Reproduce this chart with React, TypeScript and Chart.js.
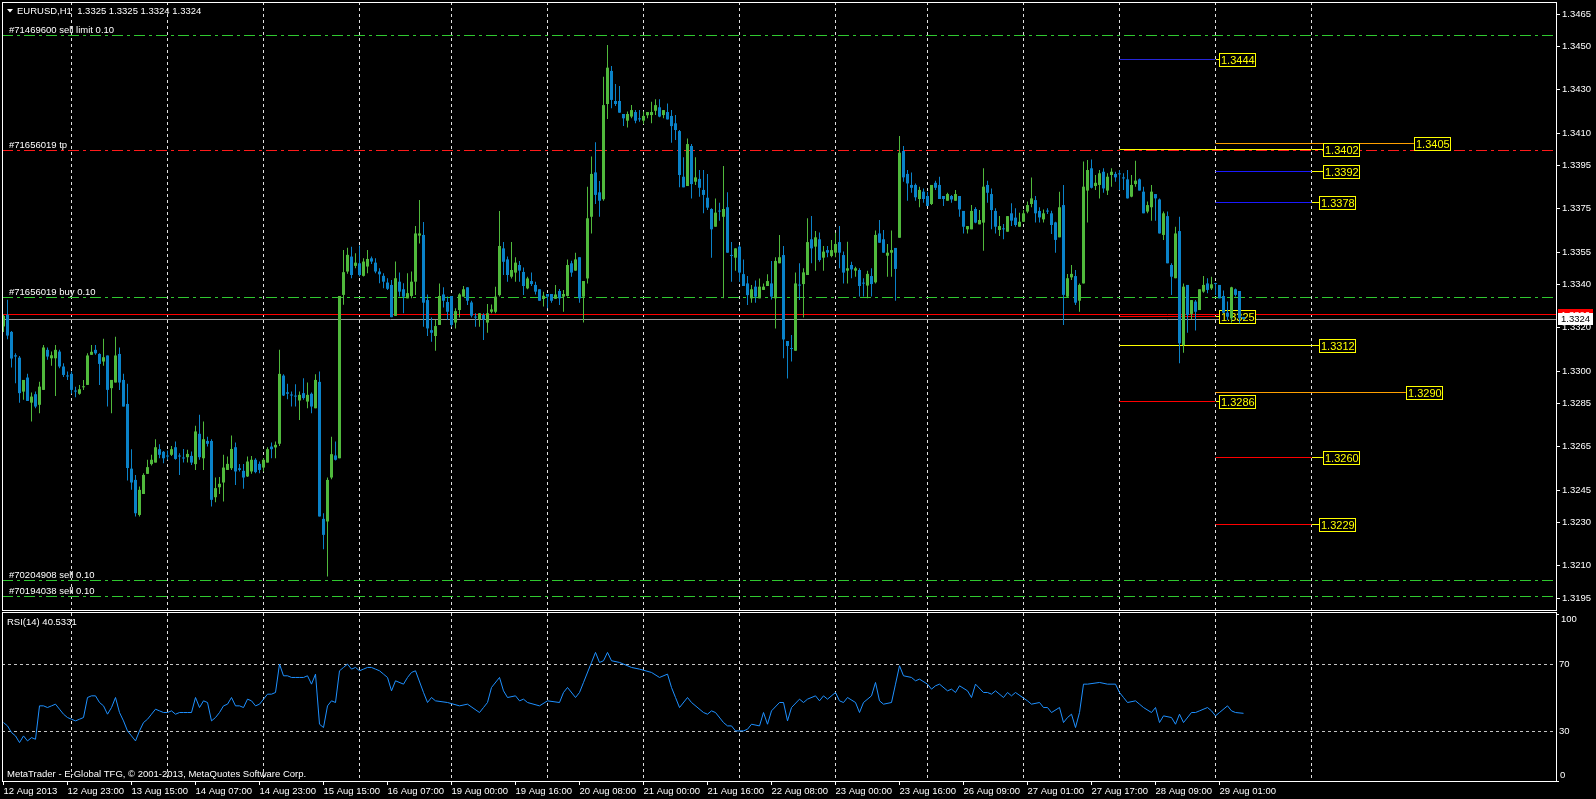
import React, { useEffect, useRef } from "react";
import { Chart, registerables } from "chart.js";

Chart.register(...registerables);

// ---------------- DATA ----------------
const OPEN = [
  1.33206,1.33260,1.33181,1.33073,1.33062,1.32905,1.32970,1.32854,1.32893,1.32844,
  1.32913,1.33098,1.33059,1.33059,1.33090,1.33021,1.32978,1.32987,1.32910,1.32895,
  1.32925,1.32936,1.33075,1.33098,1.33079,1.33044,1.33072,1.32921,1.32947,1.33079,
  1.32959,1.32848,1.32549,1.32497,1.32335,1.32432,1.32525,1.32570,1.32577,1.32639,
  1.32627,1.32608,1.32613,1.32648,1.32608,1.32600,1.32602,1.32608,1.32570,1.32710,
  1.32597,1.32677,1.32677,1.32417,1.32463,1.32485,1.32543,1.32551,1.32648,1.32551,
  1.32539,1.32513,1.32536,1.32590,1.32571,1.32554,1.32577,1.32651,1.32647,1.32664,
  1.32979,1.32902,1.32890,1.32885,1.32864,1.32898,1.32859,1.32895,1.32828,1.32950,
  1.32317,1.32305,1.32508,1.32610,1.32597,1.33352,1.33460,1.33529,1.33486,1.33498,
  1.33440,1.33483,1.33521,1.33501,1.33460,1.33440,1.33409,1.33398,1.33255,1.33413,
  1.33378,1.33336,1.33347,1.33413,1.33626,1.33629,1.33328,1.33189,1.33162,1.33213,
  1.33354,1.33319,1.33347,1.33224,1.33282,1.33344,1.33387,1.33317,1.33251,1.33239,
  1.33259,1.33224,1.33274,1.33274,1.33351,1.33567,1.33516,1.33436,1.33455,1.33490,
  1.33458,1.33382,1.33416,1.33398,1.33378,1.33333,1.33356,1.33356,1.33334,1.33370,
  1.33344,1.33347,1.33498,1.33464,1.33526,1.33344,1.33428,1.33713,1.33918,1.33826,
  1.33794,1.34234,1.34387,1.34248,1.34248,1.34188,1.34157,1.34176,1.34197,1.34168,
  1.34157,1.34182,1.34183,1.34203,1.34219,1.34183,1.34197,1.34179,1.34145,1.34109,
  1.33898,1.33855,1.34040,1.33875,1.33888,1.33837,1.33801,1.33749,1.33667,1.33741,
  1.33713,1.33757,1.33535,1.33524,1.33575,1.33448,1.33405,1.33336,1.33390,1.33336,
  1.33375,1.33393,1.33405,1.33336,1.33498,1.33536,1.33139,1.33105,1.33094,1.33398,
  1.33402,1.33444,1.33609,1.33575,1.33609,1.33524,1.33559,1.33532,1.33547,1.33596,
  1.33536,1.33464,1.33490,1.33464,1.33467,1.33407,1.33395,1.33439,1.33410,1.33636,
  1.33609,1.33533,1.33547,1.33569,1.33616,1.34017,1.33911,1.33860,1.33860,1.33795,
  1.33829,1.33809,1.33772,1.33870,1.33860,1.33809,1.33787,1.33809,1.33787,1.33809,
  1.33740,1.33655,1.33655,1.33749,1.33678,1.33686,1.33860,1.33818,1.33740,1.33652,
  1.33658,1.33644,1.33729,1.33709,1.33667,1.33690,1.33737,1.33772,1.33790,1.33740,
  1.33701,1.33741,1.33729,1.33687,1.33618,1.33767,1.33344,1.33433,1.33439,1.33325,
  1.33405,1.33834,1.33937,1.33855,1.33860,1.33921,1.33834,1.33906,1.33911,1.33911,
  1.33895,1.33886,1.33806,1.33864,1.33886,1.33829,1.33737,1.33757,1.33818,1.33793,
  1.33629,1.33716,1.33490,1.33429,1.33647,1.33120,1.33398,1.33264,1.33321,1.33282,
  1.33367,1.33405,1.33382,1.33405,1.33398,1.33347,1.33270,1.33244,1.33378,1.33370,
  1.33250,
];
const HIGH = [
  1.33260,1.33329,1.33185,1.33082,1.33070,1.32959,1.32987,1.32901,1.32905,1.32951,
  1.33121,1.33109,1.33090,1.33121,1.33098,1.33036,1.32998,1.32998,1.32928,1.32936,
  1.32959,1.33082,1.33121,1.33121,1.33082,1.33149,1.33072,1.32959,1.33158,1.33109,
  1.32987,1.32941,1.32639,1.32520,1.32466,1.32528,1.32590,1.32613,1.32685,1.32662,
  1.32631,1.32633,1.32654,1.32674,1.32620,1.32640,1.32636,1.32628,1.32747,1.32798,
  1.32767,1.32697,1.32685,1.32508,1.32510,1.32613,1.32605,1.32702,1.32670,1.32570,
  1.32571,1.32605,1.32608,1.32597,1.32582,1.32597,1.32648,1.32670,1.32674,1.33098,
  1.32985,1.32941,1.32905,1.32939,1.32905,1.32967,1.32947,1.32901,1.32985,1.32998,
  1.32343,1.32508,1.32697,1.32674,1.33347,1.33560,1.33570,1.33575,1.33544,1.33580,
  1.33521,1.33560,1.33529,1.33521,1.33475,1.33452,1.33429,1.33421,1.33506,1.33455,
  1.33406,1.33452,1.33460,1.33670,1.33790,1.33689,1.33354,1.33248,1.33236,1.33405,
  1.33387,1.33344,1.33347,1.33290,1.33359,1.33393,1.33387,1.33325,1.33267,1.33267,
  1.33267,1.33310,1.33308,1.33390,1.33740,1.33596,1.33529,1.33596,1.33526,1.33509,
  1.33478,1.33436,1.33456,1.33413,1.33378,1.33367,1.33356,1.33356,1.33398,1.33379,
  1.33375,1.33516,1.33510,1.33547,1.33526,1.33416,1.33852,1.33991,1.34057,1.33878,
  1.34360,1.34507,1.34410,1.34326,1.34317,1.34188,1.34199,1.34229,1.34206,1.34206,
  1.34199,1.34197,1.34245,1.34256,1.34256,1.34206,1.34237,1.34206,1.34183,1.34114,
  1.33988,1.34075,1.34049,1.33988,1.33929,1.33929,1.33911,1.33752,1.33798,1.33778,
  1.33948,1.33826,1.33596,1.33567,1.33582,1.33516,1.33439,1.33398,1.33418,1.33428,
  1.33405,1.33447,1.33509,1.33526,1.33629,1.33578,1.33139,1.33167,1.33456,1.33498,
  1.33475,1.33706,1.33716,1.33647,1.33640,1.33578,1.33578,1.33606,1.33639,1.33670,
  1.33552,1.33598,1.33505,1.33482,1.33475,1.33429,1.33464,1.33475,1.33649,1.33698,
  1.33652,1.33587,1.33649,1.33569,1.34086,1.34040,1.33929,1.33918,1.33867,1.33852,
  1.33844,1.33829,1.33860,1.33880,1.33898,1.33809,1.33824,1.33814,1.33837,1.33809,
  1.33740,1.33670,1.33767,1.33757,1.33744,1.33937,1.33880,1.33844,1.33752,1.33716,
  1.33680,1.33716,1.33775,1.33752,1.33732,1.33744,1.33783,1.33895,1.33809,1.33757,
  1.33747,1.33752,1.33741,1.33690,1.33829,1.33860,1.33449,1.33490,1.33467,1.33405,
  1.33968,1.33975,1.33978,1.33906,1.33929,1.33937,1.33914,1.33937,1.33921,1.33929,
  1.33914,1.33929,1.33906,1.33972,1.33890,1.33852,1.33783,1.33860,1.33818,1.33798,
  1.33737,1.33737,1.33498,1.33667,1.33713,1.33405,1.33398,1.33328,1.33328,1.33378,
  1.33439,1.33429,1.33436,1.33408,1.33398,1.33372,1.33321,1.33390,1.33382,1.33370,
  1.33250,
];
const LOW = [
  1.33180,1.33147,1.33016,1.32944,1.32854,1.32867,1.32862,1.32767,1.32828,1.32805,
  1.32913,1.33052,1.33024,1.32885,1.33013,1.32972,1.32959,1.32895,1.32879,1.32890,
  1.32913,1.32936,1.33075,1.33075,1.32936,1.33024,1.32836,1.32805,1.32947,1.32913,
  1.32836,1.32494,1.32451,1.32328,1.32328,1.32432,1.32524,1.32563,1.32577,1.32597,
  1.32574,1.32590,1.32608,1.32590,1.32520,1.32577,1.32577,1.32566,1.32543,1.32590,
  1.32543,1.32651,1.32374,1.32394,1.32432,1.32397,1.32543,1.32543,1.32474,1.32536,
  1.32456,1.32510,1.32525,1.32528,1.32528,1.32536,1.32577,1.32597,1.32597,1.32654,
  1.32885,1.32870,1.32836,1.32836,1.32774,1.32867,1.32828,1.32805,1.32828,1.32328,
  1.32177,1.32051,1.32500,1.32587,1.32597,1.33306,1.33450,1.33429,1.33475,1.33437,
  1.33437,1.33452,1.33495,1.33452,1.33406,1.33383,1.33375,1.33249,1.33255,1.33344,
  1.33267,1.33336,1.33336,1.33351,1.33590,1.33205,1.33162,1.33136,1.33094,1.33213,
  1.33294,1.33236,1.33205,1.33197,1.33248,1.33344,1.33305,1.33248,1.33205,1.33205,
  1.33144,1.33177,1.33267,1.33267,1.33344,1.33444,1.33413,1.33428,1.33413,1.33413,
  1.33351,1.33378,1.33393,1.33354,1.33325,1.33298,1.33290,1.33316,1.33334,1.33305,
  1.33274,1.33344,1.33436,1.33464,1.33316,1.33224,1.33405,1.33636,1.33772,1.33713,
  1.33787,1.34165,1.34214,1.34225,1.34194,1.34132,1.34125,1.34168,1.34145,1.34152,
  1.34142,1.34168,1.34145,1.34183,1.34173,1.34168,1.34163,1.34055,1.34068,1.33849,
  1.33849,1.33855,1.33798,1.33860,1.33806,1.33729,1.33744,1.33524,1.33667,1.33695,
  1.33336,1.33547,1.33413,1.33464,1.33413,1.33393,1.33305,1.33316,1.33316,1.33336,
  1.33375,1.33393,1.33331,1.33197,1.33498,1.33059,1.32966,1.33044,1.33094,1.33328,
  1.33248,1.33444,1.33498,1.33464,1.33505,1.33464,1.33526,1.33526,1.33526,1.33475,
  1.33405,1.33405,1.33429,1.33436,1.33344,1.33344,1.33336,1.33344,1.33405,1.33593,
  1.33547,1.33436,1.33436,1.33325,1.33616,1.33875,1.33787,1.33824,1.33787,1.33757,
  1.33778,1.33763,1.33767,1.33837,1.33795,1.33763,1.33787,1.33778,1.33787,1.33713,
  1.33636,1.33636,1.33655,1.33683,1.33678,1.33556,1.33778,1.33655,1.33636,1.33624,
  1.33609,1.33644,1.33670,1.33667,1.33667,1.33690,1.33729,1.33757,1.33686,1.33686,
  1.33686,1.33726,1.33633,1.33547,1.33618,1.33213,1.33341,1.33421,1.33305,1.33274,
  1.33405,1.33686,1.33844,1.33837,1.33798,1.33824,1.33814,1.33852,1.33875,1.33837,
  1.33837,1.33798,1.33803,1.33852,1.33834,1.33729,1.33729,1.33695,1.33695,1.33636,
  1.33606,1.33498,1.33352,1.33429,1.33036,1.33085,1.33177,1.33239,1.33187,1.33282,
  1.33362,1.33359,1.33375,1.33352,1.33336,1.33267,1.33236,1.33224,1.33344,1.33221,
  1.33240,
];
const CLOSE = [
  1.33255,1.33164,1.33058,1.33067,1.32898,1.32959,1.32862,1.32882,1.32836,1.32928,
  1.33109,1.33067,1.33073,1.33098,1.33021,1.32982,1.32975,1.32913,1.32905,1.32916,
  1.32928,1.33072,1.33089,1.33082,1.33033,1.33064,1.32913,1.32959,1.33072,1.32947,
  1.32836,1.32552,1.32485,1.32343,1.32451,1.32520,1.32556,1.32590,1.32648,1.32613,
  1.32597,1.32605,1.32639,1.32594,1.32605,1.32596,1.32617,1.32577,1.32721,1.32602,
  1.32685,1.32664,1.32405,1.32459,1.32479,1.32554,1.32571,1.32640,1.32536,1.32543,
  1.32508,1.32582,1.32590,1.32533,1.32543,1.32590,1.32639,1.32639,1.32659,1.32987,
  1.32887,1.32895,1.32887,1.32882,1.32890,1.32875,1.32890,1.32836,1.32959,1.32328,
  1.32243,1.32497,1.32616,1.32590,1.33347,1.33457,1.33537,1.33444,1.33501,1.33444,
  1.33506,1.33518,1.33506,1.33460,1.33447,1.33413,1.33380,1.33249,1.33429,1.33367,
  1.33344,1.33360,1.33413,1.33636,1.33636,1.33316,1.33197,1.33177,1.33208,1.33347,
  1.33325,1.33274,1.33213,1.33277,1.33354,1.33378,1.33325,1.33256,1.33247,1.33267,
  1.33239,1.33267,1.33285,1.33344,1.33578,1.33505,1.33444,1.33467,1.33501,1.33464,
  1.33393,1.33428,1.33402,1.33367,1.33325,1.33348,1.33344,1.33325,1.33354,1.33336,
  1.33356,1.33490,1.33455,1.33516,1.33336,1.33416,1.33706,1.33911,1.33814,1.33787,
  1.34229,1.34402,1.34253,1.34234,1.34194,1.34168,1.34188,1.34206,1.34157,1.34163,
  1.34179,1.34197,1.34197,1.34229,1.34176,1.34206,1.34163,1.34132,1.34114,1.33906,
  1.33849,1.34049,1.33864,1.33895,1.33847,1.33814,1.33755,1.33655,1.33732,1.33737,
  1.33749,1.33547,1.33532,1.33567,1.33455,1.33393,1.33351,1.33378,1.33344,1.33390,
  1.33390,1.33416,1.33344,1.33509,1.33526,1.33146,1.33116,1.33102,1.33405,1.33395,
  1.33456,1.33596,1.33567,1.33618,1.33513,1.33552,1.33547,1.33559,1.33587,1.33547,
  1.33455,1.33475,1.33470,1.33475,1.33393,1.33404,1.33449,1.33402,1.33629,1.33593,
  1.33547,1.33547,1.33559,1.33472,1.34009,1.33895,1.33867,1.33847,1.33803,1.33837,
  1.33795,1.33763,1.33860,1.33847,1.33795,1.33795,1.33818,1.33793,1.33818,1.33747,
  1.33667,1.33670,1.33740,1.33686,1.33698,1.33852,1.33824,1.33744,1.33667,1.33670,
  1.33655,1.33716,1.33695,1.33675,1.33690,1.33729,1.33767,1.33798,1.33729,1.33710,
  1.33729,1.33737,1.33675,1.33606,1.33757,1.33352,1.33429,1.33449,1.33316,1.33398,
  1.33852,1.33929,1.33847,1.33870,1.33914,1.33844,1.33898,1.33921,1.33895,1.33909,
  1.33890,1.33798,1.33860,1.33880,1.33834,1.33729,1.33767,1.33829,1.33798,1.33636,
  1.33729,1.33498,1.33436,1.33636,1.33128,1.33390,1.33259,1.33328,1.33274,1.33378,
  1.33398,1.33375,1.33401,1.33402,1.33336,1.33270,1.33251,1.33387,1.33352,1.33244,
  1.33240,
];

// RSI(14) per bar (null = not read, the line spans them)
const RSI = [
  35,33,29,27,23,27,24,26,25,45, 45,44,45,46,43,40,38,37,36,37,
  38,50,51,51,47,45,40,44,50,41, 36,30,27,24,30,35,37,40,43,42,
  41,41,42,40,41,41,41,41,50,44, 48,47,36,38,41,45,46,50,45,45,
  44,49,48,45,46,49,52,52,53,70, 63,63,62,62,62,62,63,58,64,34,
  32,45,48,47,66,68,70,67,68,66, 67,68,68,67,66,64,62,54,60,null,
  58,62,65,66,null,53,47,50,48,null, null,47,null,null,45,null,46,null,null,41,
  44,47,56,null,62,54,50,null,51,48, 49,47,null,null,45,null,48,null,null,47,
  53,56,null,50,53,59,null,71,77,71, 72,77,72,null,71,null,null,68,null,67,
  null,null,65,null,62,null,64,56,50,44, null,50,47,null,null,41,40,42,41,null,
  35,33,33,30,null,30,31,34,null,33, 41,34,42,null,47,47,36,44,null,49,
  47,49,null,51,48,51,49,null,53,48, 47,50,null,47,41,47,null,51,59,48,
  46,null,47,58,69,63,null,62,60,61, null,58,55,57,58,null,54,55,53,57,
  null,54,50,58,null,53,53,52,54,null, 50,53,51,53,null,null,48,46,null,47,
  44,44,41,null,44,35,38,40,32,41, 58,58,null,null,59,null,58,null,58,53,
  50,47,null,48,46,44,null,41,44,35, 39,null,38,34,40,35,null,41,41,42,
  null,44,42,39,41,null,45,42,41,null, 40.53,
];

const PRICE_TICKS = [1.3465,1.345,1.343,1.341,1.3395,1.3375,1.3355,1.334,1.332,1.33,1.3285,1.3265,1.3245,1.323,1.321,1.3195];
const TIME_TICK_BARS = [0,16,32,48,64,80,96,112,128,144,160,176,192,208,224,240,256,272,288,304];
const TIME_LABELS = [
  "12 Aug 2013","12 Aug 23:00","13 Aug 15:00","14 Aug 07:00","14 Aug 23:00",
  "15 Aug 15:00","16 Aug 07:00","19 Aug 00:00","19 Aug 16:00","20 Aug 08:00",
  "21 Aug 00:00","21 Aug 16:00","22 Aug 08:00","23 Aug 00:00","23 Aug 16:00",
  "26 Aug 09:00","27 Aug 01:00","27 Aug 17:00","28 Aug 09:00","29 Aug 01:00",
];
const DAY_GRID_BARS = [17,41,65,89,112,136,160,184,208,231,255,279,303,327];

const ORDER_PRICES = [1.3455, 1.3402, 1.3334, 1.3203, 1.3196];
const ORDER_LABELS = ["#71469600 sell limit 0.10","#71656019 tp","#71656019 buy 0.10","#70204908 sell 0.10","#70194038 sell 0.10"];

const LEVEL_PRICES = [1.3444, 1.3405, 1.34026, 1.3392, 1.3378, 1.3325, 1.3312, 1.3290, 1.3286, 1.3260, 1.3229];
const LEVEL_FROM = [279, 303, 279, 303, 303, 279, 279, 303, 279, 303, 303];
const LEVEL_TO = [303, 352.6, 327, 327, 327, 303, 327, 350.6, 303, 327, 327];
const LEVEL_LABELS = ["1.3444","1.3405","1.3402","1.3392","1.3378","1.3325","1.3312","1.3290","1.3286","1.3260","1.3229"];

const ASK = 1.3326;
const BID = 1.3324;
const RSI_LEVELS = [30, 70];
const RSI_TICKS = [0, 30, 70, 100];
const HEADER_TEXT = "EURUSD,H1  1.3325 1.3325 1.3324 1.3324";
const RSI_TITLE = "RSI(14) 40.5331";
const COPYRIGHT = "MetaTrader - E-Global TFG, \u00A9 2001-2013, MetaQuotes Software Corp.";

// ---------------- STYLE ----------------
const W = 1596;
const H = 799;
const MAIN_H = 611;
const RSI_H = H - MAIN_H;
const XMIN = -0.375;
const XMAX = 388.125;
const YMIN = 1.318958;
const YMAX = 1.347055;
const FONT_FAMILY = '"Liberation Sans", Arial, sans-serif';
const FONT = `9.5px ${FONT_FAMILY}`;
const LABEL_FONT = `11px ${FONT_FAMILY}`;
const GREEN = "#50b93c";
const BLUE = "#0a82c8";
const GRID_COLOR = "#e0e0e0";
const ORDER_COLORS = ["#30c830", "#ff1a1a", "#30c830", "#30c830", "#30c830"];
const LEVEL_COLORS = ["#2626d8", "#ffa000", "#ffff00", "#1a1aff", "#1a1aff", "#ff0000", "#ffff00", "#ffa000", "#ff0000", "#ff0000", "#ff0000"];
const LEVEL_LABEL_GAP = [3, 0, 11, 11, 7, 3, 7, 0, 3, 11, 7];
const RSI_LABEL_DY = [-6, 0, 0, 5];
const RSI_LABEL_DX = [4, 3, 3, 5];
const FIRST_LINE_DATASET = 2;

Chart.defaults.font.family = FONT_FAMILY;

function hLine(price: number, from: number, to: number, color: string, dash: number[], order: number) {
  return {
    type: "line" as const,
    data: [{ x: from, y: price }, { x: to, y: price }],
    borderColor: color,
    borderWidth: 1,
    borderDash: dash,
    pointRadius: 0,
    fill: false,
    order,
  };
}

const mainPlugin = {
  id: "mtMain",
  beforeDatasetsDraw(chart: any) {
    const { ctx, chartArea: a, scales } = chart;
    const xs = scales.x;
    const ys = scales.y;
    ctx.save();
    ctx.strokeStyle = GRID_COLOR;
    ctx.lineWidth = 1;
    ctx.setLineDash([3, 3]);
    DAY_GRID_BARS.forEach((b) => {
      const px = Math.floor(xs.getPixelForValue(b)) + 0.5;
      ctx.beginPath();
      ctx.moveTo(px, a.top);
      ctx.lineTo(px, a.bottom);
      ctx.stroke();
    });
    ctx.setLineDash([]);
    ctx.fillStyle = "#ffffff";
    ctx.font = FONT;
    ctx.textAlign = "left";
    ctx.textBaseline = "alphabetic";
    ctx.beginPath();
    ctx.moveTo(7, 9);
    ctx.lineTo(13, 9);
    ctx.lineTo(10, 12.5);
    ctx.closePath();
    ctx.fill();
    ctx.fillText(HEADER_TEXT, 17, 14);
    ORDER_PRICES.forEach((p, i) => {
      ctx.fillText(ORDER_LABELS[i], 9, Math.floor(ys.getPixelForValue(p)) - 2);
    });
    ctx.restore();
  },
  beforeDatasetDraw(chart: any, args: any) {
    const { ctx, scales } = chart;
    if (args.index >= FIRST_LINE_DATASET) {
      // snap the horizontal line onto the pixel grid so it stays crisp
      const pts = args.meta.data;
      ctx.save();
      if (pts && pts.length) {
        const y = pts[0].y;
        ctx.translate(0, Math.floor(y) + 0.5 - y);
      }
      return;
    }
    if (args.index !== 1) return;
    const xs = scales.x;
    const ys = scales.y;
    ctx.save();
    ctx.font = LABEL_FONT;
    ctx.textAlign = "left";
    ctx.textBaseline = "middle";
    ctx.lineWidth = 1;
    LEVEL_PRICES.forEach((p, i) => {
      const xEnd = xs.getPixelForValue(LEVEL_TO[i]);
      const py = Math.floor(ys.getPixelForValue(p));
      const bx = Math.round(xEnd + LEVEL_LABEL_GAP[i]);
      ctx.strokeStyle = "#ffff00";
      if (LEVEL_LABEL_GAP[i] > 1) {
        ctx.beginPath();
        ctx.moveTo(Math.round(xEnd), py + 0.5);
        ctx.lineTo(bx, py + 0.5);
        ctx.stroke();
      }
      ctx.fillStyle = "#000000";
      ctx.fillRect(bx, py - 6, 36, 14);
      ctx.strokeRect(bx + 0.5, py - 5.5, 36, 13);
      ctx.fillStyle = "#ffff00";
      ctx.fillText(LEVEL_LABELS[i], bx + 2, py + 1.5);
    });
    ctx.restore();
  },
  afterDatasetDraw(chart: any, args: any) {
    if (args.index >= FIRST_LINE_DATASET) chart.ctx.restore();
  },
  afterDraw(chart: any) {
    const { ctx, chartArea: a, scales } = chart;
    const ys = scales.y;
    ctx.save();
    ctx.strokeStyle = "#ffffff";
    ctx.lineWidth = 1;
    ctx.strokeRect(a.left + 0.5, a.top + 0.5, a.right - a.left, a.bottom - a.top);
    ctx.font = FONT;
    ctx.textAlign = "left";
    ctx.textBaseline = "middle";
    const yA = Math.round(ys.getPixelForValue(ASK));
    ctx.fillStyle = "#ff0000";
    ctx.fillRect(a.right + 2, yA - 6, 35, 12);
    ctx.fillStyle = "#ffffff";
    ctx.fillText(ASK.toFixed(4), a.right + 5, yA + 0.5);
    const yB = Math.round(ys.getPixelForValue(BID));
    ctx.fillStyle = "#ffffff";
    ctx.fillRect(a.right + 2, yB - 6, 35, 12);
    ctx.fillStyle = "#000000";
    ctx.fillText(BID.toFixed(4), a.right + 5, yB + 0.5);
    ctx.restore();
  },
};

const rsiPlugin = {
  id: "mtRsi",
  beforeDatasetsDraw(chart: any) {
    const { ctx, chartArea: a, scales } = chart;
    const xs = scales.x;
    const ys = scales.y;
    ctx.save();
    ctx.fillStyle = "#ffffff";
    ctx.font = FONT;
    ctx.textAlign = "left";
    ctx.textBaseline = "alphabetic";
    ctx.fillText(RSI_TITLE, 7, a.top + 12);
    ctx.fillText(COPYRIGHT, 7, a.bottom - 4);
    ctx.lineWidth = 1;
    ctx.strokeStyle = GRID_COLOR;
    ctx.setLineDash([3, 3]);
    DAY_GRID_BARS.forEach((b) => {
      const px = Math.floor(xs.getPixelForValue(b)) + 0.5;
      ctx.beginPath();
      ctx.moveTo(px, a.top);
      ctx.lineTo(px, a.bottom);
      ctx.stroke();
    });
    ctx.strokeStyle = "#c4c4c4";
    RSI_LEVELS.forEach((v) => {
      const py = Math.round(ys.getPixelForValue(v)) + 0.5;
      ctx.beginPath();
      ctx.moveTo(a.left, py);
      ctx.lineTo(a.right, py);
      ctx.stroke();
    });
    ctx.restore();
  },
  afterDraw(chart: any) {
    const { ctx, chartArea: a, scales } = chart;
    const ys = scales.y;
    ctx.save();
    ctx.strokeStyle = "#ffffff";
    ctx.lineWidth = 1;
    ctx.strokeRect(a.left + 0.5, a.top - 0.5, a.right - a.left, a.bottom - a.top + 1);
    ctx.fillStyle = "#ffffff";
    ctx.font = FONT;
    ctx.textAlign = "left";
    ctx.textBaseline = "middle";
    RSI_TICKS.forEach((v, i) => {
      const py = Math.round(ys.getPixelForValue(v));
      if (v === 0 || v === 100) {
        ctx.beginPath();
        ctx.moveTo(a.right, py + 0.5);
        ctx.lineTo(a.right + 3, py + 0.5);
        ctx.stroke();
      }
      ctx.fillText(String(v), a.right + RSI_LABEL_DX[i], py + RSI_LABEL_DY[i]);
    });
    ctx.restore();
  },
};

function mainConfig(): any {
  const colors = CLOSE.map((c, i) => (c >= OPEN[i] ? GREEN : BLUE));
  const datasets: any[] = [
    {
      type: "bar",
      data: OPEN.map((o, i) => ({ x: i, y: [o, CLOSE[i]] })),
      backgroundColor: colors,
      barThickness: 3,
      grouped: false,
      minBarLength: 1,
      borderWidth: 0,
      inflateAmount: 0,
      order: 0,
    },
    {
      type: "bar",
      data: LOW.map((l, i) => ({ x: i, y: [l, HIGH[i]] })),
      backgroundColor: colors,
      barThickness: 1,
      grouped: false,
      minBarLength: 1,
      borderWidth: 0,
      inflateAmount: 0,
      order: 1,
    },
  ];
  ORDER_PRICES.forEach((p, i) => datasets.push(hLine(p, XMIN, XMAX, ORDER_COLORS[i], [11, 4, 3, 4], 10)));
  datasets.push(hLine(ASK, XMIN, XMAX, "#ff0000", [], 10));
  datasets.push(hLine(BID, XMIN, XMAX, "#9a9a9a", [], 10));
  LEVEL_PRICES.forEach((p, i) => datasets.push(hLine(p, LEVEL_FROM[i], LEVEL_TO[i], LEVEL_COLORS[i], [], 10)));

  return {
    type: "bar",
    data: { datasets },
    options: {
      responsive: false,
      maintainAspectRatio: false,
      animation: false,
      devicePixelRatio: 1,
      events: [],
      layout: { padding: { left: 2, top: 2, right: 0, bottom: 1 } },
      plugins: { legend: { display: false }, tooltip: { enabled: false } },
      scales: {
        x: { type: "linear", min: XMIN, max: XMAX, display: false, offset: false },
        y: {
          type: "linear",
          position: "right",
          min: YMIN,
          max: YMAX,
          afterBuildTicks: (s: any) => {
            s.ticks = PRICE_TICKS.map((v) => ({ value: v }));
          },
          afterFit: (s: any) => {
            s.width = 40;
            s.paddingTop = 0;
            s.paddingBottom = 0;
          },
          ticks: {
            callback: (v: any) => Number(v).toFixed(4),
            color: "#ffffff",
            font: { family: FONT_FAMILY, size: 9.5 },
            padding: 2,
            autoSkip: false,
          },
          grid: { drawOnChartArea: false, drawTicks: true, tickLength: 4, color: "#ffffff" },
          border: { display: true, color: "#ffffff", width: 1 },
        },
      },
    },
    plugins: [mainPlugin],
  };
}

function rsiConfig(): any {
  return {
    type: "line",
    data: {
      datasets: [
        {
          data: RSI.map((v, i) => ({ x: i, y: v })),
          borderColor: "#1e90ff",
          borderWidth: 1,
          pointRadius: 0,
          spanGaps: true,
          tension: 0,
          fill: false,
        },
      ],
    },
    options: {
      responsive: false,
      maintainAspectRatio: false,
      animation: false,
      devicePixelRatio: 1,
      events: [],
      layout: { padding: { left: 2, top: 2, right: 0, bottom: 0 } },
      plugins: { legend: { display: false }, tooltip: { enabled: false } },
      scales: {
        x: {
          type: "linear",
          min: XMIN,
          max: XMAX,
          position: "bottom",
          offset: false,
          afterBuildTicks: (s: any) => {
            s.ticks = TIME_TICK_BARS.map((v) => ({ value: v }));
          },
          afterFit: (s: any) => {
            s.height = 18;
            s.paddingLeft = 0;
            s.paddingRight = 0;
          },
          ticks: {
            callback: (_v: any, i: number) => TIME_LABELS[i],
            color: "#ffffff",
            font: { family: FONT_FAMILY, size: 9.5 },
            align: "start",
            padding: 1,
            autoSkip: false,
            maxRotation: 0,
            minRotation: 0,
          },
          grid: { drawOnChartArea: false, drawTicks: true, tickLength: 4, color: "#ffffff" },
          border: { display: true, color: "#ffffff", width: 1 },
        },
        y: {
          type: "linear",
          position: "right",
          min: 0,
          max: 100.6,
          afterFit: (s: any) => {
            s.width = 40;
            s.paddingTop = 0;
            s.paddingBottom = 0;
          },
          ticks: { display: false },
          grid: { display: false },
          border: { display: true, color: "#ffffff", width: 1 },
        },
      },
    },
    plugins: [rsiPlugin],
  };
}

export default function App() {
  const mainRef = useRef<HTMLCanvasElement | null>(null);
  const rsiRef = useRef<HTMLCanvasElement | null>(null);

  useEffect(() => {
    document.body.style.margin = "0";
    document.body.style.background = "#000";
    const main = new Chart(mainRef.current as HTMLCanvasElement, mainConfig());
    const rsi = new Chart(rsiRef.current as HTMLCanvasElement, rsiConfig());
    return () => {
      main.destroy();
      rsi.destroy();
    };
  }, []);

  return (
    <div style={{ position: "fixed", left: 0, top: 0, width: W, height: H, background: "#000", overflow: "hidden" }}>
      <canvas
        ref={mainRef}
        width={W}
        height={MAIN_H}
        style={{ position: "absolute", left: 0, top: 0, width: W, height: MAIN_H }}
      />
      <canvas
        ref={rsiRef}
        width={W}
        height={RSI_H}
        style={{ position: "absolute", left: 0, top: MAIN_H, width: W, height: RSI_H }}
      />
    </div>
  );
}
